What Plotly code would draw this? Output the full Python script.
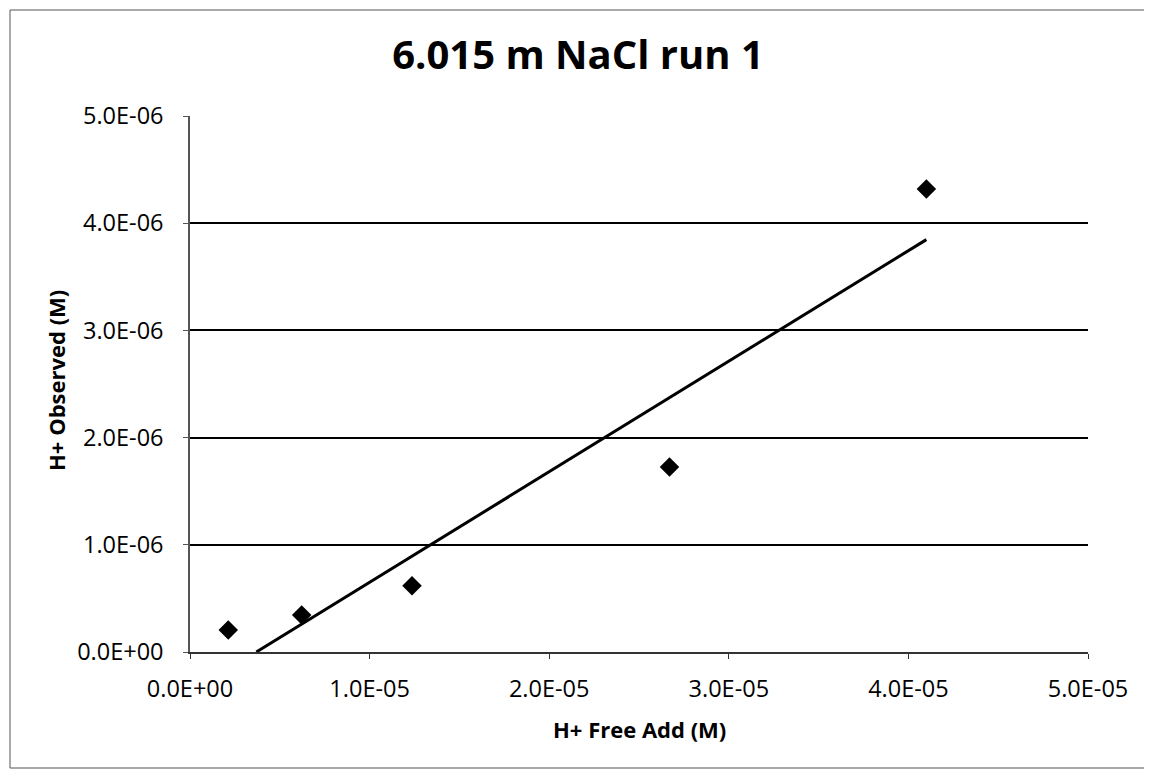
import numpy as np
import plotly.graph_objects as go

# Data
h_free_add = [2.13e-6, 6.22e-6, 1.236e-5, 2.67e-5, 4.10e-5]
h_observed = [2.05e-7, 3.45e-7, 6.17e-7, 1.725e-6, 4.32e-6]

x_tickvals = [0, 1e-5, 2e-5, 3e-5, 4e-5, 5e-5]
x_ticktext = ["0.0E+00", "1.0E-05", "2.0E-05", "3.0E-05", "4.0E-05", "5.0E-05"]
y_tickvals = [0, 1e-6, 2e-6, 3e-6, 4e-6, 5e-6]
y_ticktext = ["0.0E+00", "1.0E-06", "2.0E-06", "3.0E-06", "4.0E-06", "5.0E-06"]

title_text = "6.015 m NaCl run 1"
x_title = "H+ Free Add (M)"
y_title = "H+ Observed (M)"

# Linear trendline (least squares), as in the spreadsheet
slope, intercept = np.polyfit(h_free_add, h_observed, 1)
x0 = -intercept / slope  # trendline clipped at y = 0 by axis range
tx = [max(min(h_free_add), x0), max(h_free_add)]
ty = [slope * v + intercept for v in tx]

FONT = "Open Sans"
W, H = 1144, 768          # page adds an 8px body margin
L, R, T, B = 182, 64, 108, 124
PW, PH = W - L - R, H - T - B

fig = go.Figure()
fig.add_trace(go.Scatter(
    x=tx, y=ty, mode="lines",
    line=dict(color="black", width=3),
    showlegend=False, hoverinfo="skip"))
fig.add_trace(go.Scatter(
    x=h_free_add, y=h_observed, mode="markers",
    marker=dict(symbol="diamond", size=15, color="black"),
    showlegend=False))

fig.update_layout(
    width=W, height=H,
    margin=dict(l=L, r=R, t=T, b=B),
    paper_bgcolor="white", plot_bgcolor="white",
    font=dict(family=FONT, color="black"),
    title=dict(text="<b>" + title_text + "</b>", x=(578 - 8) / W, xanchor="center",
               y=1 - 47 / H, yanchor="middle",
               font=dict(family=FONT, size=40, color="black")),
    xaxis=dict(
        range=[0, 5e-5], tickvals=x_tickvals, ticktext=x_ticktext,
        showgrid=False, zeroline=False,
        showline=True, linecolor="#333333", linewidth=1.5,
        ticks="outside", ticklen=5, tickcolor="#333333",
        tickfont=dict(family=FONT, size=23.5),
        ticklabelstandoff=10,
    ),
    yaxis=dict(
        range=[0, 5e-6], tickvals=y_tickvals, ticktext=y_ticktext,
        showgrid=True, gridcolor="black", gridwidth=1.5,
        zeroline=False,
        showline=True, linecolor="#555555", linewidth=1.5,
        ticks="outside", ticklen=5, tickcolor="#555555",
        tickfont=dict(family=FONT, size=23.5),
        ticklabelstandoff=15,
    ),
)

# Axis titles as annotations for exact placement
fig.add_annotation(text="<b>" + x_title + "</b>", xref="paper", yref="paper",
                   x=0.5, y=-(729 - 652) / PH, xanchor="center", yanchor="middle",
                   showarrow=False, font=dict(family=FONT, size=22, color="black"))
fig.add_annotation(text="<b>" + y_title + "</b>", xref="paper", yref="paper",
                   x=-(190 - 56) / PW, y=(652 - 381) / PH, xanchor="center", yanchor="middle",
                   textangle=-90, showarrow=False,
                   font=dict(family=FONT, size=22, color="black"))

# Outer chart border (left, top, bottom) - kept inside the figure area
bl, bt, bb, br = -(L - 2) / PW, 1 + (T - 2) / PH, -116 / PH, 1 + 62 / PW
for (xa, xb, ya, yb) in [(bl, bl, bb, bt), (bl, br, bt, bt), (bl, br, bb, bb)]:
    fig.add_shape(type="line", xref="paper", yref="paper",
                  x0=xa, x1=xb, y0=ya, y1=yb,
                  line=dict(color="#555555", width=1))

fig.write_html("out.html")
